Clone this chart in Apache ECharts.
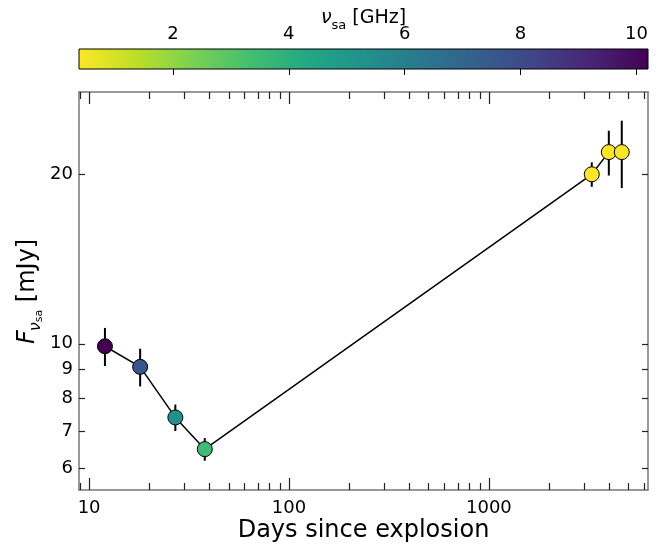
<!DOCTYPE html>
<html>
<head>
<meta charset="utf-8">
<script src="https://cdn.jsdelivr.net/npm/echarts@6/dist/echarts.min.js"></script>
<style>
  html, body { margin: 0; padding: 0; background: #fff; }
  #rank_ref { width: 671px; height: 548px; }
</style>
</head>
<body>
<div id="rank_ref"></div>
<script>
// 数据 (从图里读的)
const days = [12.0, 18.0, 27.0, 37.9, 3270, 3980, 4620]
const flux = [9.9, 9.1, 7.4, 6.5, 20.0, 21.9, 21.9]
const fluxErr = [0.77, 0.7, 0.4, 0.3, 1.0, 2.0, 3.0]
const nuSa = [10.2, 7.6, 5.3, 3.5, 0.40, 0.38, 0.45]

// 刻度
const xMajorTicks = [10, 100, 1000]
const xMinorTicks = [9, 20, 30, 40, 50, 60, 70, 80, 90, 200, 300, 400, 500, 600, 700, 800, 900, 2000, 3000, 4000, 5000, 6000]
const yTicks = [6, 7, 8, 9, 10, 20]
const cbTicks = [2, 4, 6, 8, 10]

// viridis, 反过来用 (小的是黄色)
const viridis = ['#440154', '#482475', '#414487', '#355f8d', '#2a788e', '#21918c', '#22a884', '#44bf70', '#7ad151', '#bddf26', '#fde725']
const colorArr = viridis.slice().reverse()

const nuMin = Math.min(...nuSa)
const nuMax = Math.max(...nuSa)

const font = 'DejaVu Sans'
const frameColor = '#777'
const tickColor = '#222'

const chartInstance = echarts.init(document.getElementById('rank_ref'), null, { renderer: 'canvas' })

// 对数轴的公共部分
function logX (position, ticks, len, withLine, withLabel) {
  return {
    type: 'log',
    logBase: 10,
    gridIndex: 0,
    position: position,
    min: 8.9,
    max: 6250,
    axisLine: { show: withLine, onZero: false, lineStyle: { color: frameColor, width: 1.5 } },
    axisTick: { show: true, inside: true, length: len, customValues: ticks, lineStyle: { color: tickColor, width: 1.2 } },
    axisLabel: {
      show: withLabel,
      customValues: ticks,
      margin: 9,
      color: '#000',
      fontFamily: font,
      fontSize: 18,
      formatter: v => String(Math.round(v))
    },
    splitLine: { show: false },
    minorTick: { show: false }
  }
}
function logY (position, withLabel) {
  return {
    type: 'log',
    logBase: 10,
    gridIndex: 0,
    position: position,
    min: 5.5,
    max: 28,
    axisLine: { show: true, onZero: false, lineStyle: { color: frameColor, width: 1.5 } },
    axisTick: { show: true, inside: true, length: 6, customValues: yTicks, lineStyle: { color: tickColor, width: 1.2 } },
    axisLabel: {
      show: withLabel,
      customValues: yTicks,
      margin: 6,
      color: '#000',
      fontFamily: font,
      fontSize: 18,
      formatter: v => String(Math.round(v))
    },
    splitLine: { show: false }
  }
}

const xBottom = logX('bottom', xMajorTicks, 12, true, true)
xBottom.name = 'Days since explosion'
xBottom.nameLocation = 'middle'
xBottom.nameGap = 29
xBottom.nameMoveOverlap = false
xBottom.nameTextStyle = { color: '#000', fontFamily: font, fontSize: 24 }

const yLeft = logY('left', true)
yLeft.name = '{f|F}{s|ν}{ss|sa}{n| [mJy]}'
yLeft.nameLocation = 'middle'
yLeft.nameGap = 34
yLeft.nameMoveOverlap = false
yLeft.nameTextStyle = {
  color: '#000',
  fontFamily: font,
  rich: {
    f: { fontSize: 24, fontStyle: 'italic', fontFamily: font, color: '#000', width: 12, padding: [0, 0, 5, 0], verticalAlign: 'bottom' },
    s: { fontSize: 16, fontStyle: 'italic', fontFamily: font, color: '#000', padding: [0, 0, 1, 0], verticalAlign: 'bottom' },
    ss: { fontSize: 11, fontFamily: font, color: '#000', padding: [0, 0, 0, 0], verticalAlign: 'bottom' },
    n: { fontSize: 24, fontFamily: font, color: '#000', padding: [0, 0, 5, 0], verticalAlign: 'bottom' }
  }
}

const errData = days.map((d, i) => [d, flux[i] - fluxErr[i], flux[i] + fluxErr[i]])
const lineData = days.map((d, i) => [d, flux[i]])
const scatterData = days.map((d, i) => [d, flux[i], nuSa[i]])

const initOption = {
  backgroundColor: '#fff',
  animation: false,
  grid: [
    { left: 79, right: 23, top: 92, bottom: 57 },
    // 颜色条
    { left: 79, right: 23, top: 49, height: 20 }
  ],
  xAxis: [
    xBottom,
    logX('bottom', xMinorTicks, 7, false, false),
    logX('top', xMajorTicks, 12, true, false),
    logX('top', xMinorTicks, 7, false, false),
    {
      type: 'value',
      gridIndex: 1,
      position: 'top',
      min: nuMin,
      max: nuMax,
      name: '{s|ν}{ss|sa}{n| [GHz]}',
      nameLocation: 'middle',
      nameGap: 17,
      nameMoveOverlap: false,
      nameTextStyle: {
        color: '#000',
        fontFamily: font,
        rich: {
          s: { fontSize: 19, fontStyle: 'italic', fontFamily: font, color: '#000', padding: [0, 0, 4, 0], verticalAlign: 'bottom' },
          ss: { fontSize: 13, fontFamily: font, color: '#000', verticalAlign: 'bottom' },
          n: { fontSize: 19, fontFamily: font, color: '#000', padding: [0, 0, 4, 0], verticalAlign: 'bottom' }
        }
      },
      axisLine: { show: false },
      axisTick: { show: true, inside: true, length: 6, customValues: cbTicks, lineStyle: { color: '#000', width: 1 } },
      axisLabel: {
        customValues: cbTicks,
        margin: 6,
        color: '#000',
        fontFamily: font,
        fontSize: 18
      },
      splitLine: { show: false },
      z: 5
    }
  ],
  yAxis: [
    yLeft,
    logY('right', false),
    { type: 'value', gridIndex: 1, min: 0, max: 1, show: false }
  ],
  visualMap: {
    show: false,
    type: 'continuous',
    min: nuMin,
    max: nuMax,
    dimension: 2,
    seriesIndex: 2,
    inRange: { color: colorArr }
  },
  series: [
    {
      // 误差棒
      type: 'custom',
      xAxisIndex: 0,
      yAxisIndex: 0,
      data: errData,
      encode: { x: 0, y: [1, 2] },
      z: 3,
      renderItem: (params, api) => {
        const a = api.coord([api.value(0), api.value(1)])
        const b = api.coord([api.value(0), api.value(2)])
        return {
          type: 'line',
          shape: { x1: a[0], y1: a[1], x2: b[0], y2: b[1] },
          style: { stroke: '#000', lineWidth: 2 }
        }
      }
    },
    {
      type: 'line',
      xAxisIndex: 0,
      yAxisIndex: 0,
      data: lineData,
      symbol: 'none',
      lineStyle: { color: '#000', width: 1.5 },
      z: 2
    },
    {
      type: 'scatter',
      xAxisIndex: 0,
      yAxisIndex: 0,
      data: scatterData,
      symbolSize: 15,
      itemStyle: { borderColor: '#000', borderWidth: 1, opacity: 1 },
      z: 4
    },
    {
      // 颜色条本身
      type: 'custom',
      xAxisIndex: 4,
      yAxisIndex: 2,
      data: [[nuMin, 0, nuMax, 1]],
      encode: { x: [0, 2], y: [1, 3] },
      silent: true,
      z: 1,
      renderItem: (params, api) => {
        const p0 = api.coord([api.value(0), api.value(1)])
        const p1 = api.coord([api.value(2), api.value(3)])
        const stops = colorArr.map((c, i) => ({ offset: i / (colorArr.length - 1), color: c }))
        return {
          type: 'rect',
          shape: { x: p0[0], y: p1[1], width: p1[0] - p0[0], height: p0[1] - p1[1] },
          style: {
            fill: new echarts.graphic.LinearGradient(0, 0, 1, 0, stops),
            stroke: '#000',
            lineWidth: 1
          }
        }
      }
    }
  ]
}
chartInstance.setOption(initOption)
</script>
</body>
</html>
